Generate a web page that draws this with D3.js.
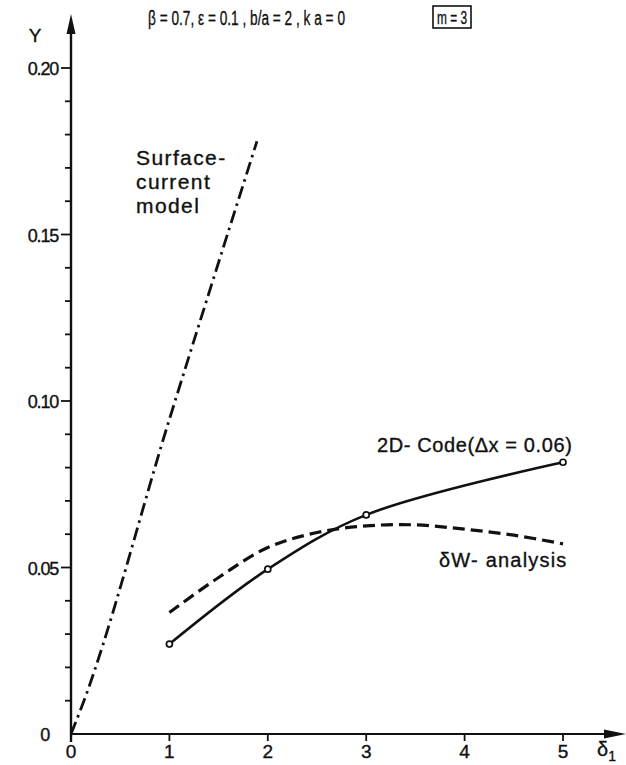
<!DOCTYPE html>
<html>
<head>
<meta charset="utf-8">
<script src="https://cdn.jsdelivr.net/npm/d3@7"></script>
<style>
  html, body { margin: 0; padding: 0; background: #fff; }
  svg { display: block; font-family: "Liberation Sans", "DejaVu Sans", sans-serif; }
  text { fill: #111; stroke: #111; stroke-width: 0.35; white-space: pre; }
</style>
</head>
<body>
<svg id="chart" width="626" height="765"></svg>
<script>
// Growth rate gamma versus delta_1 for three models
const xTicks = [0, 1, 2, 3, 4, 5];
const yMajorTicks = [0, 0.05, 0.10, 0.15, 0.20];
const yMajorLabels = ["0", "0.05", "0.10", "0.15", "0.20"];
const yMinorTicks = d3.range(1, 21).map(i => i / 100);

// 2D code results (circles) at delta_1 = 1, 2, 3, 5
const codeX = [1, 2, 3, 5];
const codeY = [0.0270, 0.0495, 0.0658, 0.0816];

// delta-W analysis (dashed)
const dwX = [1, 1.5, 2, 2.5, 3, 3.5, 4, 4.5, 5];
const dwY = [0.0365, 0.0470, 0.0560, 0.0605, 0.0625, 0.0628, 0.0615, 0.0597, 0.0571];

// surface-current model (dash-dot)
const scX = [0, 0.1, 1.0, 1.89];
const scY = [0, 0.0075, 0.0945, 0.178];

const svg = d3.select("#chart");
const x = d3.scaleLinear().domain([0, 5]).range([71, 563]);
const y = d3.scaleLinear().domain([0, 0.20]).range([734, 68]);

// y axis: long line with arrow, minor ticks every 0.01
svg.append("line").attr("x1", x(0)).attr("x2", x(0))
  .attr("y1", 742).attr("y2", 30)
  .attr("stroke", "#111").attr("stroke-width", 2.4);
svg.append("path")
  .attr("d", `M${x(0)},14 L${x(0) - 4.5},34 L${x(0) + 4.5},34 Z`)
  .attr("fill", "#111");

svg.append("g").selectAll("line").data(yMinorTicks.filter(v => Math.round(v * 100) % 5 !== 0))
  .join("line")
  .attr("x1", x(0) - 6).attr("x2", x(0))
  .attr("y1", d => y(d)).attr("y2", d => y(d))
  .attr("stroke", "#111").attr("stroke-width", 1.8);
svg.append("g").selectAll("line").data(yMajorTicks.slice(1))
  .join("line")
  .attr("x1", x(0) - 10).attr("x2", x(0))
  .attr("y1", d => y(d)).attr("y2", d => y(d))
  .attr("stroke", "#111").attr("stroke-width", 1.8);
svg.append("g").selectAll("text").data(yMajorTicks)
  .join("text")
  .attr("x", (d, i) => i === 0 ? 49 : 58)
  .attr("y", d => y(d) + 7)
  .attr("text-anchor", "end")
  .attr("font-size", 18)
  .attr("letter-spacing", -1.2)
  .text((d, i) => yMajorLabels[i]);

// x axis with arrow
svg.append("line").attr("x1", x(0)).attr("x2", 608)
  .attr("y1", y(0)).attr("y2", y(0))
  .attr("stroke", "#111").attr("stroke-width", 2.2);
svg.append("path")
  .attr("d", `M626,${y(0)} L604,${y(0) - 4.5} L604,${y(0) + 4.5} Z`)
  .attr("fill", "#111");
svg.append("g").selectAll("line").data(xTicks.slice(1))
  .join("line")
  .attr("x1", d => x(d)).attr("x2", d => x(d))
  .attr("y1", y(0)).attr("y2", y(0) + 7)
  .attr("stroke", "#111").attr("stroke-width", 1.8);
svg.append("g").selectAll("text").data(xTicks)
  .join("text")
  .attr("x", d => x(d))
  .attr("y", 758)
  .attr("text-anchor", "middle")
  .attr("font-size", 19)
  .text(d => d);

// axis titles
svg.append("text").attr("x", 35).attr("y", 42).attr("text-anchor", "middle")
  .attr("font-size", 19).text("Y");
const xt = svg.append("text").attr("x", 597).attr("y", 756)
  .attr("font-size", 20);
xt.append("tspan").text("δ");
xt.append("tspan").attr("font-size", 14).attr("dy", 5).text("1");

// parameter header
svg.append("text").attr("x", 148).attr("y", 25)
  .attr("font-size", 20)
  .attr("textLength", 197).attr("lengthAdjust", "spacingAndGlyphs")
  .text("β = 0.7, ε = 0.1 , b/a = 2 , k a = 0");
svg.append("rect").attr("x", 433).attr("y", 6).attr("width", 38).attr("height", 22)
  .attr("fill", "none").attr("stroke", "#111").attr("stroke-width", 1.6);
svg.append("text").attr("x", 437).attr("y", 24)
  .attr("font-size", 18)
  .attr("textLength", 30).attr("lengthAdjust", "spacingAndGlyphs")
  .text("m = 3");

// curves
const lineGen = (xs, ys, curve) => d3.line()
  .x((d, i) => x(xs[i])).y((d, i) => y(ys[i]))
  .curve(curve)(xs);

svg.append("path")
  .attr("d", lineGen(scX, scY, d3.curveMonotoneX))
  .attr("fill", "none").attr("stroke", "#111").attr("stroke-width", 2.8)
  .attr("stroke-dasharray", "13,5,2.5,5");

svg.append("path")
  .attr("d", lineGen(dwX, dwY, d3.curveCatmullRom))
  .attr("fill", "none").attr("stroke", "#111").attr("stroke-width", 3.2)
  .attr("stroke-dasharray", "12,6");

svg.append("path")
  .attr("d", lineGen(codeX, codeY, d3.curveCatmullRom))
  .attr("fill", "none").attr("stroke", "#111").attr("stroke-width", 2.6);

svg.append("g").selectAll("circle").data(codeX)
  .join("circle")
  .attr("cx", d => x(d)).attr("cy", (d, i) => y(codeY[i]))
  .attr("r", 3).attr("fill", "#fff").attr("stroke", "#111").attr("stroke-width", 1.7);

// curve labels
const sc = svg.append("text").attr("font-size", 21).attr("letter-spacing", 1.4);
["Surface-", "current", "model"].forEach((t, i) =>
  sc.append("tspan").attr("x", 136).attr("y", 165 + i * 24).text(t));

svg.append("text").attr("x", 377).attr("y", 452)
  .attr("font-size", 20)
  .attr("letter-spacing", 0.6)
  .text("2D- Code(Δx = 0.06)");
svg.append("text").attr("x", 439).attr("y", 567)
  .attr("font-size", 20)
  .attr("letter-spacing", 1.2)
  .text("δW- analysis");
</script>
</body>
</html>
